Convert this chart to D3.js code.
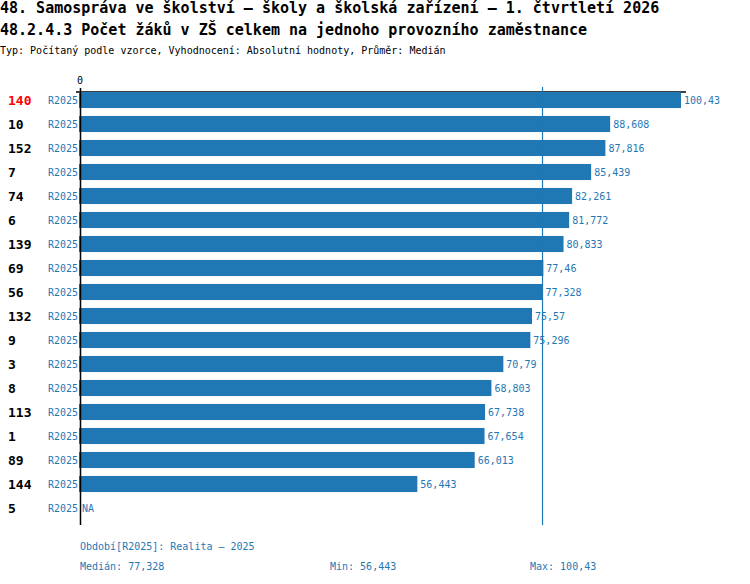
<!DOCTYPE html>
<html>
<head>
<meta charset="utf-8">
<script src="https://cdn.jsdelivr.net/npm/d3@7"></script>
<style>
  body { margin: 0; background: #fff; }
  text { font-family: "DejaVu Sans Mono", "Liberation Mono", monospace; }
</style>
</head>
<body>
<svg id="chart" width="750" height="584"></svg>
<script>
const categories = ["140", "10", "152", "7", "74", "6", "139", "69", "56", "132", "9", "3", "8", "113", "1", "89", "144", "5"];
const periods = ["R2025", "R2025", "R2025", "R2025", "R2025", "R2025", "R2025", "R2025", "R2025", "R2025", "R2025", "R2025", "R2025", "R2025", "R2025", "R2025", "R2025", "R2025"];
const values = [100.43, 88.608, 87.816, 85.439, 82.261, 81.772, 80.833, 77.46, 77.328, 75.57, 75.296, 70.79, 68.803, 67.738, 67.654, 66.013, 56.443, null];
const highlighted = "140";
const median = 77.328;
const minValue = 56.443;
const maxValue = 100.43;

const titleLines = [
    "48. Samospráva ve školství – školy a školská zařízení – 1. čtvrtletí 2026",
    "48.2.4.3 Počet žáků v ZŠ celkem na jednoho provozního zaměstnance"
];
const subtitle = "Typ: Počítaný podle vzorce, Vyhodnocení: Absolutní hodnoty, Průměr: Medián";
const periodNote = "Období[R2025]: Realita – 2025";

const blue = "#1f77b4";
const fmt = v => v == null ? "NA" : String(v).replace(".", ",");

const svg = d3.select("#chart");

// titles
svg.selectAll(".title")
    .data(titleLines)
    .enter().append("text")
    .attr("class", "title")
    .attr("x", 0)
    .attr("y", (d, i) => 13 + i * 22)
    .attr("font-size", 15)
    .attr("font-weight", "bold")
    .text(d => d);

svg.append("text")
    .attr("x", 0)
    .attr("y", 54)
    .attr("font-size", 10)
    .text(subtitle);

const x = d3.scaleLinear().domain([0, maxValue]).range([79, 681]);
const y = d3.scaleBand().domain(categories).range([88, 520]).paddingInner(0.33).paddingOuter(0.165);

// top axis
svg.append("line")
    .attr("x1", 76).attr("x2", 686)
    .attr("y1", 92).attr("y2", 92)
    .attr("stroke", "#000").attr("stroke-width", 1.5);

svg.append("text")
    .attr("x", x(0) + 1)
    .attr("y", 84)
    .attr("text-anchor", "middle")
    .attr("font-size", 10)
    .text("0");

const rowData = categories.map((c, i) => ({ cat: c, period: periods[i], value: values[i] }));

// bars
svg.selectAll(".bar")
    .data(rowData.filter(d => d.value != null))
    .enter().append("rect")
    .attr("class", "bar")
    .attr("x", x(0))
    .attr("y", d => y(d.cat))
    .attr("width", d => x(d.value) - x(0))
    .attr("height", y.bandwidth())
    .attr("fill", blue);

// median line
svg.append("line")
    .attr("x1", x(median)).attr("x2", x(median))
    .attr("y1", 87).attr("y2", 525)
    .attr("stroke", blue).attr("stroke-width", 1.2);

// left axis line
svg.append("line")
    .attr("x1", 80.5).attr("x2", 80.5)
    .attr("y1", 88).attr("y2", 525)
    .attr("stroke", "#000").attr("stroke-width", 1.5);

const rows = svg.selectAll(".row")
    .data(rowData)
    .enter().append("g")
    .attr("class", "row")
    .attr("transform", d => `translate(0, ${y(d.cat) + y.bandwidth() / 2})`);

rows.append("text")
    .attr("x", 8)
    .attr("dy", "0.35em")
    .attr("font-size", 13)
    .attr("font-weight", "bold")
    .attr("fill", d => d.cat === highlighted ? "#ff0000" : "#000")
    .text(d => d.cat);

rows.append("text")
    .attr("x", 78)
    .attr("dy", "0.35em")
    .attr("text-anchor", "end")
    .attr("font-size", 10)
    .attr("fill", blue)
    .text(d => d.period);

rows.append("text")
    .attr("x", d => (d.value == null ? x(0) : x(d.value)) + 3)
    .attr("dy", "0.35em")
    .attr("font-size", 10)
    .attr("fill", blue)
    .text(d => fmt(d.value));

// footer
const footer = svg.append("g").attr("font-size", 10).attr("fill", blue);
footer.append("text").attr("x", 80).attr("y", 550).text(periodNote);
footer.append("text").attr("x", 80).attr("y", 570).text("Medián: " + fmt(median));
footer.append("text").attr("x", 330).attr("y", 570).text("Min: " + fmt(minValue));
footer.append("text").attr("x", 530).attr("y", 570).text("Max: " + fmt(maxValue));
</script>
</body>
</html>
